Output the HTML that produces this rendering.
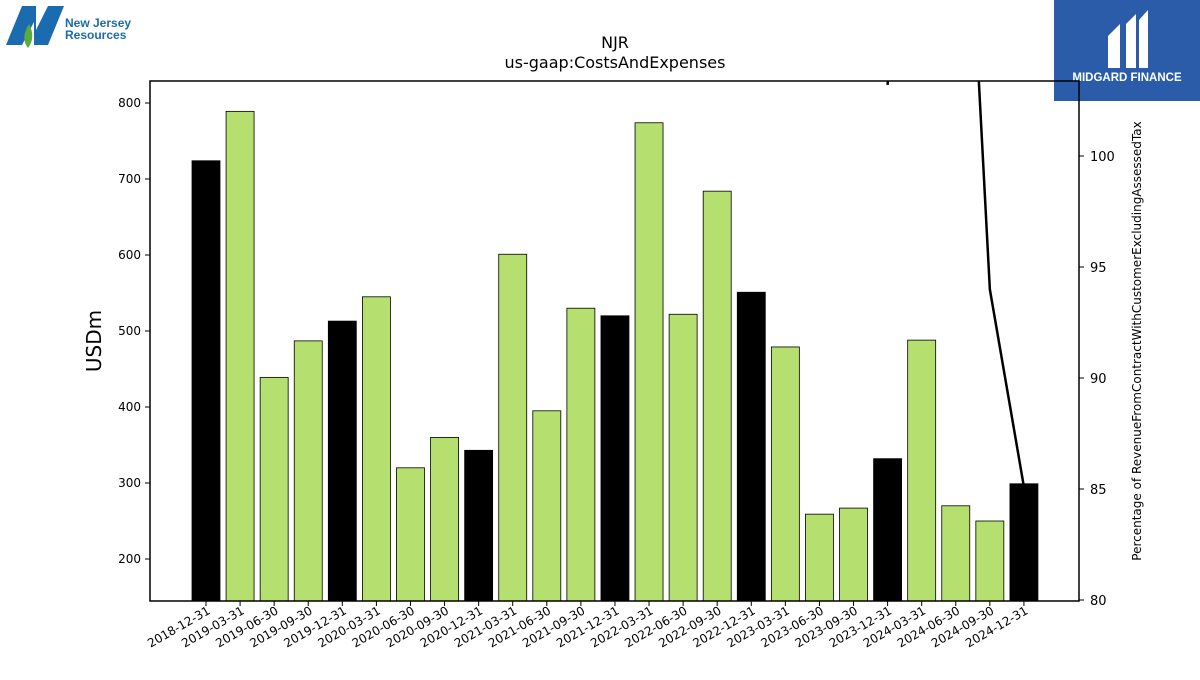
<!DOCTYPE html>
<html><head><meta charset="utf-8"><style>
body{margin:0;background:#fff;font-family:"Liberation Sans","DejaVu Sans",sans-serif}
svg text{font-family:"DejaVu Sans","Liberation Sans",sans-serif}
</style></head><body>
<svg id="c" width="1200" height="675" xmlns="http://www.w3.org/2000/svg">
<g>
<polygon points="6,45 22,6 36,6 36,30 48,6 64,6 48,45 34,45 34,22 22,45" fill="#1a6bb0"/>
<path d="M28,48 C22,40 24,32 29,24 C33,32 34,40 28,48Z" fill="#5aaa3c"/>
<text x="65" y="27" font-size="12" font-weight="bold" fill="#1a6bb0" style="font-family:'Liberation Sans',sans-serif">New Jersey</text>
<text x="65" y="39" font-size="12" font-weight="bold" fill="#1a6bb0" style="font-family:'Liberation Sans',sans-serif">Resources</text>
</g>
<g>
<rect x="1054" y="0" width="146" height="101" fill="#2a5caa"/>
<path d="M1108,68 L1108,36 L1120,24 L1120,68 Z M1126,68 L1126,24 L1136,14 L1136,68 Z M1139,68 L1139,20 L1148,10 L1148,68 Z" fill="#fff"/>
<text x="1127" y="81" font-size="11.5" font-weight="bold" fill="#fff" text-anchor="middle" style="font-family:'Liberation Sans',sans-serif">MIDGARD FINANCE</text>
</g>
<text x="615" y="48" font-size="16" text-anchor="middle">NJR</text>
<text x="615" y="68" font-size="16" text-anchor="middle">us-gaap:CostsAndExpenses</text>
<g id="bars"></g><g id="axes"></g>
<rect x="150" y="81" width="929" height="520" fill="none" stroke="#000" stroke-width="1.5"/>
<text transform="translate(101,341) rotate(-90)" font-size="20" text-anchor="middle">USDm</text>
<text transform="translate(1141,341) rotate(-90)" font-size="12" text-anchor="middle">Percentage of RevenueFromContractWithCustomerExcludingAssessedTax</text>
</svg>
<script>
const categories=["2018-12-31","2019-03-31","2019-06-30","2019-09-30","2019-12-31","2020-03-31","2020-06-30","2020-09-30","2020-12-31","2021-03-31","2021-06-30","2021-09-30","2021-12-31","2022-03-31","2022-06-30","2022-09-30","2022-12-31","2023-03-31","2023-06-30","2023-09-30","2023-12-31","2024-03-31","2024-06-30","2024-09-30","2024-12-31"];
const costs=[724,789,439,487,513,545,320,360,343,601,395,530,520,774,522,684,551,479,259,267,332,488,270,250,299];
const ratioCats=["2023-12-31","2024-03-31","2024-06-30","2024-09-30","2024-12-31"];
const ratio=[103.2,130,123,94,85.1];
const leftTicks=[200,300,400,500,600,700,800];
const rightTicks=[80,85,90,95,100];
const NS="http://www.w3.org/2000/svg";
const x=i=>206+i*34.08;
const y=v=>559-(v-200)*0.76;
const y2=v=>600-(v-80)*22.2;
function mk(t,a,p){const e=document.createElementNS(NS,t);for(const k in a)e.setAttribute(k,a[k]);p.appendChild(e);return e;}
const bars=document.getElementById('bars'),axes=document.getElementById('axes');
costs.forEach((v,i)=>{const black=categories[i].endsWith('12-31');
const r=mk('rect',{x:x(i)-14,y:y(v),width:28,height:601-y(v),fill:black?'#000':'#b5df6e',stroke:'#000','stroke-width':0.8},bars);

});
const cp=document.createElementNS(NS,'clipPath');cp.id='cl';mk('rect',{x:150,y:81,width:929,height:520},cp);document.getElementById('c').appendChild(cp);
const pts=ratio.map((v,i)=>x(categories.indexOf(ratioCats[i]))+','+y2(v)).join(' ');
const pl=mk('polyline',{points:pts,fill:'none',stroke:'#000','stroke-width':2.5,'clip-path':'url(#cl)'},bars);


leftTicks.forEach(v=>{mk('line',{x1:145,x2:150,y1:y(v),y2:y(v),stroke:'#000'},axes);
const t=mk('text',{x:141,y:y(v)+4,'font-size':12,'text-anchor':'end'},axes);t.textContent=v;

});
rightTicks.forEach(v=>{mk('line',{x1:1079,x2:1084,y1:y2(v),y2:y2(v),stroke:'#000'},axes);
const t=mk('text',{x:1090,y:y2(v)+5,'font-size':13},axes);t.textContent=v;

});
categories.forEach((c,i)=>{mk('line',{x1:x(i),x2:x(i),y1:601,y2:606,stroke:'#000'},axes);
const t=mk('text',{transform:`translate(${x(i)+5},${613}) rotate(-30)`,'font-size':12,'text-anchor':'end'},axes);t.textContent=c;

});
</script>
</body></html>
